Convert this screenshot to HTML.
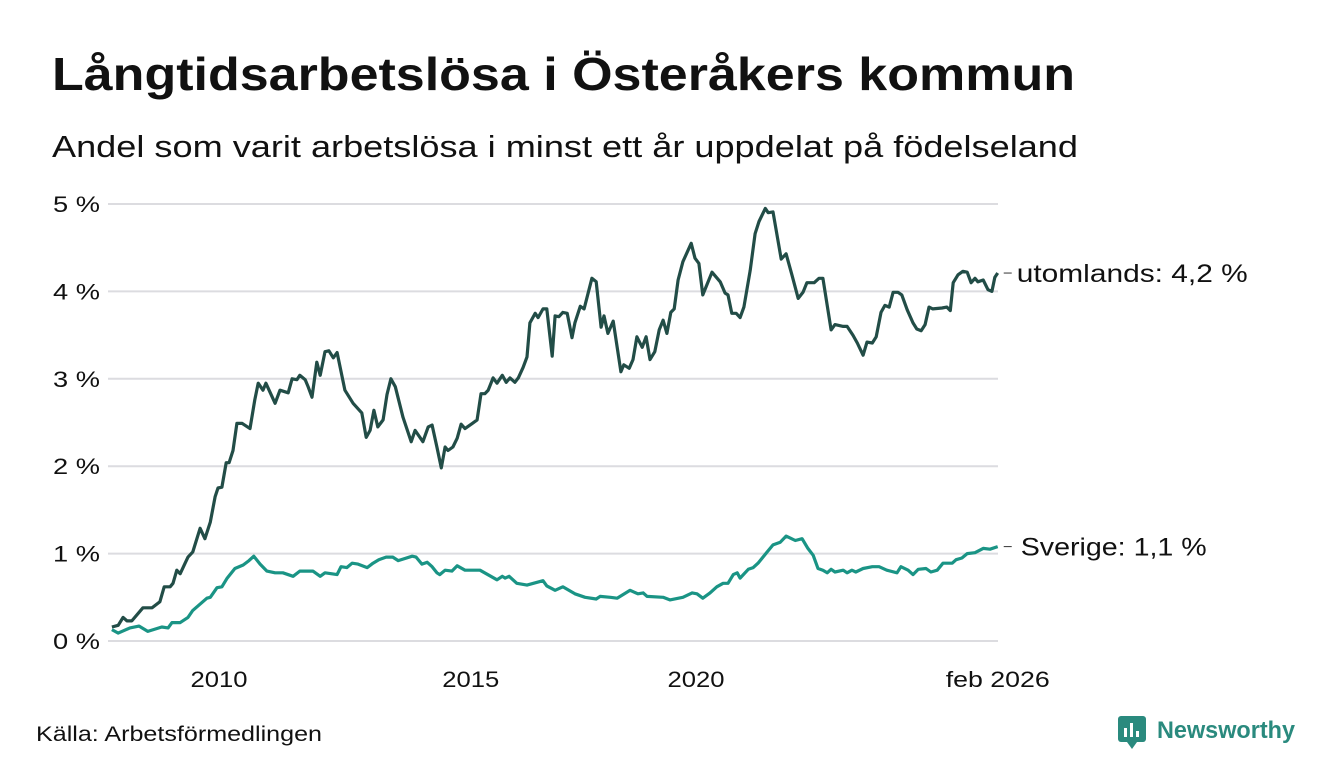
<!DOCTYPE html>
<html><head><meta charset="utf-8">
<style>
body{margin:0;background:#fff;width:1340px;height:780px;overflow:hidden;font-family:"Liberation Sans",sans-serif;}
svg{display:block}
</style></head>
<body>
<svg id="chart" width="1340" height="780">
<text x="52" y="90" font-size="46" font-weight="bold" fill="#111" textLength="1023" lengthAdjust="spacingAndGlyphs">Långtidsarbetslösa i Österåkers kommun</text>
<text x="52" y="157" font-size="31" fill="#111" textLength="1026" lengthAdjust="spacingAndGlyphs">Andel som varit arbetslösa i minst ett år uppdelat på födelseland</text>
<g id="grid"></g><g id="xaxis"></g><g id="lines"></g>
<text x="36" y="741" font-size="21" fill="#111" textLength="286" lengthAdjust="spacingAndGlyphs">Källa: Arbetsförmedlingen</text>
<g>
<rect x="1118" y="716" width="28" height="26" rx="3" fill="#2a8a7e"/>
<path d="M1127 742 l5 7 l5 -7 z" fill="#2a8a7e"/>
<rect x="1124" y="728" width="3" height="9" fill="#fff"/><rect x="1130" y="723" width="3" height="14" fill="#fff"/><rect x="1136" y="731" width="3" height="6" fill="#fff"/>
<text x="1157" y="738" font-size="24" font-weight="bold" fill="#2a8a7e" textLength="138" lengthAdjust="spacingAndGlyphs">Newsworthy</text>
</g>
</svg>
<script>
const yTicks=[0,1,2,3,4,5];
const xTickYears=[2010.0,2015.2,2019.85,2026.08];
const xTickLabels=["2010","2015","2020","feb 2026"];
const utDates=[2007.79,2007.92,2008.02,2008.10,2008.20,2008.43,2008.62,2008.78,2008.87,2008.99,2009.05,2009.13,2009.20,2009.30,2009.36,2009.46,2009.61,2009.71,2009.82,2009.92,2009.98,2010.06,2010.15,2010.21,2010.29,2010.37,2010.48,2010.64,2010.74,2010.81,2010.91,2010.97,2011.16,2011.26,2011.43,2011.51,2011.61,2011.67,2011.78,2011.84,2011.92,2012.02,2012.09,2012.19,2012.27,2012.36,2012.44,2012.60,2012.77,2012.95,2013.04,2013.12,2013.20,2013.28,2013.39,2013.47,2013.55,2013.64,2013.80,2013.97,2014.05,2014.21,2014.32,2014.40,2014.50,2014.59,2014.67,2014.73,2014.83,2014.92,2015.00,2015.08,2015.23,2015.33,2015.41,2015.49,2015.56,2015.66,2015.74,2015.85,2015.93,2016.01,2016.11,2016.18,2016.28,2016.36,2016.42,2016.53,2016.59,2016.69,2016.77,2016.88,2016.94,2017.02,2017.10,2017.19,2017.29,2017.35,2017.46,2017.54,2017.70,2017.79,2017.89,2017.95,2018.03,2018.14,2018.30,2018.36,2018.47,2018.55,2018.63,2018.74,2018.82,2018.90,2019.00,2019.09,2019.17,2019.25,2019.33,2019.40,2019.48,2019.58,2019.75,2019.83,2019.91,2019.99,2020.18,2020.35,2020.45,2020.51,2020.59,2020.68,2020.76,2020.84,2020.97,2021.07,2021.15,2021.28,2021.34,2021.44,2021.61,2021.71,2021.83,2021.96,2022.06,2022.14,2022.29,2022.39,2022.47,2022.64,2022.72,2022.89,2022.97,2023.09,2023.18,2023.30,2023.38,2023.49,2023.57,2023.67,2023.75,2023.84,2023.92,2024.02,2024.10,2024.21,2024.33,2024.41,2024.50,2024.58,2024.66,2024.74,2024.93,2025.03,2025.10,2025.16,2025.26,2025.36,2025.45,2025.53,2025.61,2025.67,2025.78,2025.88,2025.96,2026.02,2026.08];
const utValues=[0.16,0.18,0.27,0.23,0.23,0.38,0.38,0.45,0.62,0.62,0.66,0.81,0.77,0.89,0.96,1.02,1.29,1.17,1.36,1.65,1.75,1.76,2.04,2.04,2.18,2.49,2.49,2.43,2.76,2.95,2.87,2.95,2.72,2.87,2.84,3.00,2.99,3.04,2.99,2.91,2.79,3.19,3.04,3.31,3.32,3.24,3.30,2.87,2.72,2.61,2.33,2.41,2.64,2.45,2.53,2.82,3.00,2.91,2.56,2.28,2.41,2.28,2.45,2.47,2.22,1.98,2.22,2.18,2.22,2.32,2.48,2.43,2.49,2.53,2.83,2.83,2.87,3.01,2.95,3.04,2.96,3.01,2.96,3.01,3.13,3.25,3.64,3.75,3.70,3.80,3.80,3.26,3.72,3.71,3.76,3.75,3.47,3.64,3.83,3.80,4.15,4.11,3.59,3.72,3.52,3.66,3.08,3.16,3.12,3.22,3.48,3.36,3.48,3.22,3.31,3.56,3.67,3.52,3.76,3.80,4.13,4.34,4.55,4.38,4.32,3.96,4.22,4.11,3.98,3.96,3.75,3.75,3.70,3.82,4.24,4.66,4.80,4.95,4.90,4.91,4.37,4.43,4.19,3.92,3.99,4.10,4.10,4.15,4.15,3.56,3.62,3.60,3.60,3.50,3.41,3.27,3.42,3.41,3.48,3.76,3.84,3.82,3.99,3.99,3.96,3.79,3.64,3.57,3.55,3.62,3.82,3.80,3.81,3.82,3.78,4.10,4.19,4.23,4.22,4.10,4.15,4.11,4.13,4.02,4.00,4.16,4.21];
const svDates=[2007.79,2007.92,2008.16,2008.35,2008.53,2008.82,2008.95,2009.03,2009.20,2009.36,2009.46,2009.75,2009.82,2009.96,2010.06,2010.17,2010.33,2010.50,2010.62,2010.72,2010.85,2010.99,2011.16,2011.32,2011.53,2011.67,2011.94,2012.09,2012.19,2012.44,2012.52,2012.64,2012.75,2012.87,2013.06,2013.18,2013.30,2013.45,2013.59,2013.70,2013.99,2014.07,2014.19,2014.30,2014.40,2014.50,2014.56,2014.67,2014.81,2014.92,2015.08,2015.39,2015.74,2015.85,2015.91,2015.99,2016.15,2016.36,2016.69,2016.77,2016.94,2017.10,2017.35,2017.56,2017.79,2017.87,2018.08,2018.22,2018.49,2018.65,2018.76,2018.84,2019.17,2019.31,2019.58,2019.77,2019.87,2019.99,2020.14,2020.28,2020.41,2020.51,2020.62,2020.70,2020.76,2020.93,2021.03,2021.13,2021.32,2021.44,2021.59,2021.71,2021.79,2021.90,2022.04,2022.16,2022.27,2022.37,2022.47,2022.56,2022.64,2022.72,2022.89,2022.97,2023.07,2023.15,2023.30,2023.49,2023.63,2023.79,2024.00,2024.08,2024.23,2024.33,2024.44,2024.60,2024.70,2024.83,2024.95,2025.14,2025.22,2025.34,2025.45,2025.61,2025.78,2025.92,2026.08];
const svValues=[0.13,0.09,0.15,0.17,0.11,0.16,0.15,0.21,0.21,0.27,0.35,0.49,0.50,0.61,0.62,0.72,0.83,0.87,0.92,0.97,0.88,0.80,0.78,0.78,0.74,0.80,0.80,0.74,0.78,0.76,0.85,0.84,0.89,0.88,0.84,0.89,0.93,0.96,0.96,0.92,0.97,0.96,0.88,0.90,0.85,0.78,0.76,0.81,0.80,0.86,0.81,0.81,0.70,0.74,0.72,0.74,0.66,0.64,0.69,0.63,0.58,0.62,0.54,0.50,0.48,0.51,0.50,0.49,0.58,0.54,0.55,0.51,0.50,0.47,0.50,0.55,0.54,0.49,0.55,0.62,0.66,0.66,0.76,0.78,0.72,0.82,0.84,0.89,1.02,1.10,1.13,1.20,1.18,1.15,1.17,1.06,0.98,0.83,0.81,0.78,0.82,0.79,0.81,0.78,0.81,0.79,0.83,0.85,0.85,0.81,0.78,0.85,0.81,0.76,0.82,0.83,0.79,0.81,0.89,0.89,0.93,0.95,1.00,1.01,1.06,1.05,1.08];
const seriesNames=["utomlands","Sverige"];
const seriesLabels=["utomlands: 4,2 %","Sverige: 1,1 %"];

const NS="http://www.w3.org/2000/svg";
const X=y=>110+(y-2007.75)*48.43;
const Y=v=>641-v*87.4;
function mk(tag,attrs,parent){const e=document.createElementNS(NS,tag);for(const k in attrs)e.setAttribute(k,attrs[k]);parent.appendChild(e);return e;}
const grid=document.getElementById('grid'),xa=document.getElementById('xaxis'),lines=document.getElementById('lines');
yTicks.forEach(t=>{
  const l=mk('line',{x1:108,x2:998,y1:Y(t),y2:Y(t),stroke:'#dcdce0','stroke-width':2},grid);
  
  
  const tx=mk('text',{x:100,y:Y(t)+8,'text-anchor':'end','font-size':22,fill:'#111',textLength:47,lengthAdjust:'spacingAndGlyphs'},grid);
  tx.textContent=t+' %';
  
  
});
xTickYears.forEach((yr,i)=>{
  const tx=mk('text',{x:X(yr),y:687,'text-anchor':'middle','font-size':22,fill:'#111',textLength:(xTickLabels[i].length>4?104:57),lengthAdjust:'spacingAndGlyphs'},xa);
  tx.textContent=xTickLabels[i];
  
  
});
const cfg=[[utDates,utValues,'#224d47'],[svDates,svValues,'#1a9485']];
const labelLens=[231,186];
cfg.forEach((c,s)=>{
  const d=c[0].map((yr,i)=>(i?'L':'M')+X(yr).toFixed(1)+' '+Y(c[1][i]).toFixed(1)).join(' ');
  const p=mk('path',{d:d,fill:'none',stroke:c[2],'stroke-width':3.2,'stroke-linejoin':'round'},lines);
  
  
  const lastX=X(c[0][c[0].length-1]),lastY=Y(c[1][c[1].length-1]);
  const dash=mk('line',{x1:lastX+6,x2:lastX+14,y1:lastY,y2:lastY,stroke:'#333','stroke-width':1},lines);
  
  
  const lab=mk('text',{x:lastX+(s?23:19),y:lastY+9,'font-size':25,fill:'#111',textLength:labelLens[s],lengthAdjust:'spacingAndGlyphs'},lines);
  lab.textContent=seriesLabels[s];
  
  
});
</script>
</body></html>
